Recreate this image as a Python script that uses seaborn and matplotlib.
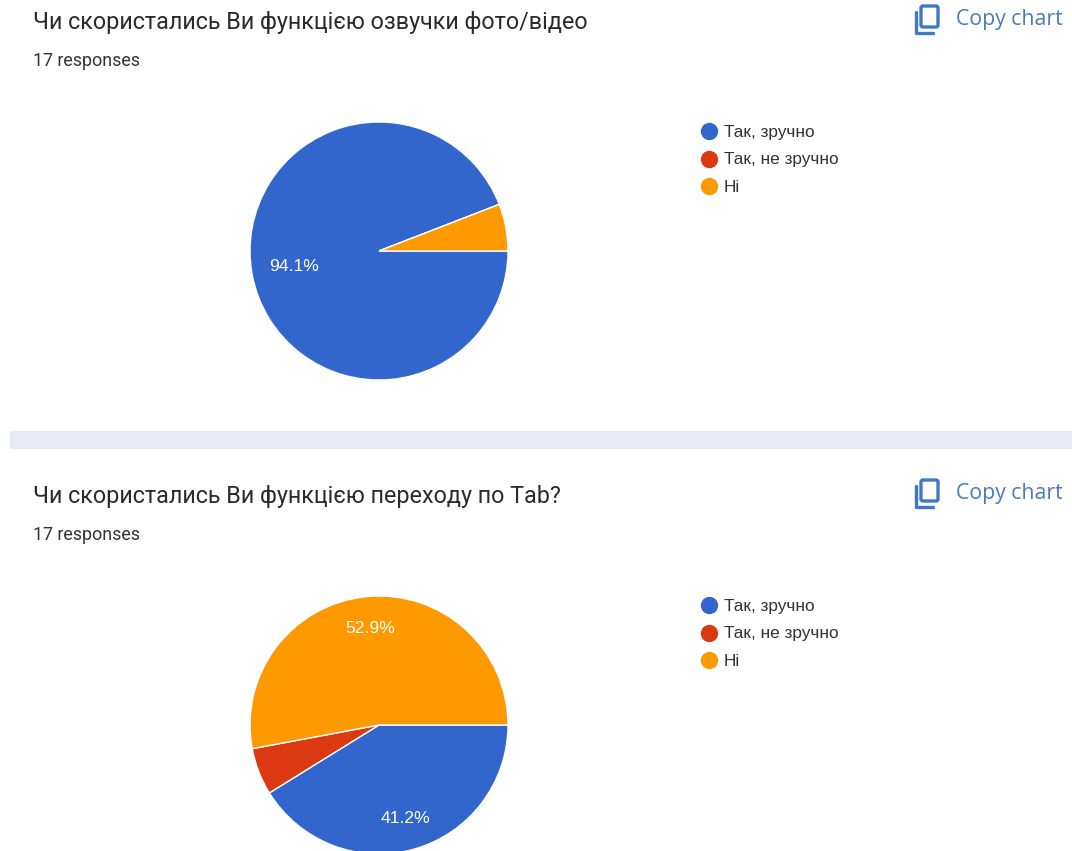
import matplotlib
matplotlib.use("Agg")
import matplotlib.pyplot as plt
import seaborn as sns
from matplotlib.patches import Rectangle, FancyBboxPatch

# дані опитування
titles = ["Чи скористались Ви функцією озвучки фото/відео",
          "Чи скористались Ви функцією переходу по Tab?"]
responses = "17 responses"
categories = ["Так, зручно", "Так, не зручно", "Ні"]
counts_first = [16, 0, 1]
counts_second = [7, 1, 9]
palette = ["#3366cc", "#dc3912", "#ff9900"]

sns.set_theme(style="white")
plt.rcParams['font.family'] = ['Roboto', 'DejaVu Sans']

W, H = 1072, 851
fig = plt.figure(figsize=(W / 100, H / 100), dpi=100)

# фоновий шар у пікселях для тексту, іконок і смуги
bg = fig.add_axes([0, 0, 1, 1])
bg.set_xlim(0, W)
bg.set_ylim(H, 0)
bg.axis("off")
bg.add_patch(Rectangle((10, 431), W - 10, 18, color="#e9e9f6", lw=0))


def pct_label(p):
    # маленькі сектори без підпису
    return f"{p:.1f}%" if p > 10 else ""


def draw_block(counts, title, dy, pctdist):
    bg.text(33, 22 + dy, title, fontsize=16.8, color="#2b2b2e", va="center")
    bg.text(33, 61.5 + dy, responses, fontsize=12.9, color="#333333", va="center")

    # іконка і кнопка
    bg.add_patch(FancyBboxPatch((921, 6 + dy), 17, 21, boxstyle="round,pad=0,rounding_size=2",
                                fill=False, ec="#3f78c8", lw=2.4))
    bg.plot([915.5, 915.5, 933], [12 + dy, 32.5 + dy, 32.5 + dy], color="#3f78c8", lw=2.4)
    bg.text(956, 19.5 + dy, "Copy chart", fontsize=15.3, color="#4a7bbd",
            family=["Open Sans", "DejaVu Sans"], va="center", fontweight="medium")

    # легенда
    for i, (name, col) in enumerate(zip(categories, palette)):
        y = 131 + dy + i * 27.5
        bg.plot([709], [y], "o", ms=12.5, color=col, mec="none")
        bg.text(724, y + 1, name, fontsize=12.4, color="#333333", va="center",
                family=["Liberation Sans", "DejaVu Sans"])

    # кругова діаграма, центр (379, 251 + dy), радіус 129
    r = 129 * 1.1
    cx, cy = 379, 251 + dy
    ax = fig.add_axes([(cx - r) / W, 1 - (cy + r) / H, 2 * r / W, 2 * r / H])
    ax.pie(counts, colors=palette, startangle=0, counterclock=False, radius=1,
           autopct=pct_label, pctdistance=pctdist,
           wedgeprops={"edgecolor": "white", "linewidth": 1},
           textprops={"color": "white", "fontsize": 12.6,
                      "family": ["Liberation Sans", "DejaVu Sans"]})
    ax.set_xlim(-1.1, 1.1)
    ax.set_ylim(-1.1, 1.1)


draw_block(counts_first, titles[0], 0, 0.67)
draw_block(counts_second, titles[1], 474, 0.75)

fig.savefig("out.png", dpi=100)
